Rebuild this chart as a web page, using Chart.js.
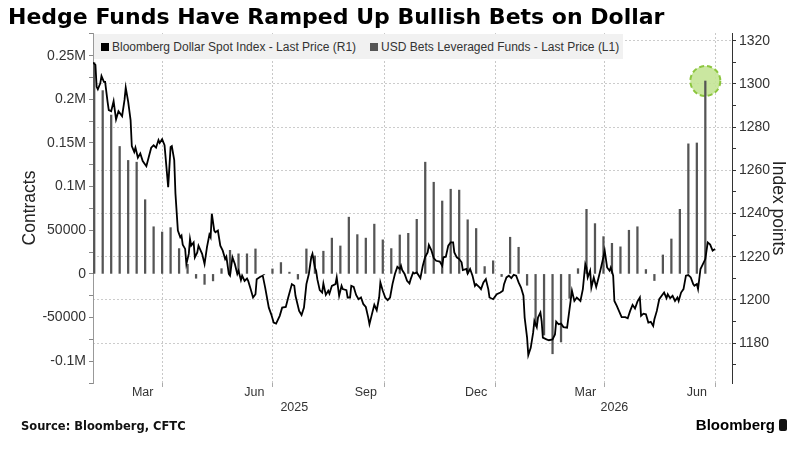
<!DOCTYPE html>
<html>
<head>
<meta charset="utf-8">
<title>Hedge Funds Have Ramped Up Bullish Bets on Dollar</title>
<script src="https://cdn.jsdelivr.net/npm/chart.js@4.4.1/dist/chart.umd.min.js"></script>
<style>
  html, body { margin:0; padding:0; background:#fff; }
  #wrap { position:relative; width:800px; height:450px; overflow:hidden; background:#fff; }
  #chart { position:absolute; left:0; top:0; }
  #title { position:absolute; left:8px; top:2px; font-family:"DejaVu Sans", sans-serif; font-weight:bold; font-size:22px; line-height:30px; color:#000; white-space:nowrap; }
  #legend { position:absolute; left:94px; top:34px; height:25px; padding:0 4px 0 7px; background:#f1f1f1; display:flex; align-items:center; font-family:"Liberation Sans", Arial, sans-serif; font-size:12px; color:#333; white-space:nowrap; }
  #legend .sw { display:inline-block; width:8px; height:8px; margin-right:3px; }
  #legend .item { display:flex; align-items:center; }
  #legend .item + .item { margin-left:14px; }
  #source { position:absolute; left:21px; top:418px; font-family:"DejaVu Sans", sans-serif; font-weight:bold; font-size:11.5px; line-height:16px; color:#111; white-space:nowrap; }
  #brand { position:absolute; right:13px; top:415px; font-family:"Liberation Sans", Arial, sans-serif; font-weight:bold; font-size:15px; line-height:20px; color:#000; display:flex; align-items:center; gap:4px; }
  #brand i { display:inline-block; width:8px; height:12px; background:#111; border-radius:2px; }
</style>
</head>
<body>
<div id="wrap">
  <canvas id="chart" width="800" height="450"></canvas>
  <div id="title">Hedge Funds Have Ramped Up Bullish Bets on Dollar</div>
  <div id="legend"></div>
  <div id="source">Source: Bloomberg, CFTC</div>
  <div id="brand">Bloomberg<i></i></div>
</div>
<script>
// ---------------- DATA ----------------
const BASE_DATE = '2025-02-03';           // day 0 of the x axis
const X_MIN_DATE = '2025-02-03';
const X_MAX_DATE = '2026-07-15';

// USD Bets Leveraged Funds (weekly, contracts) - left axis
const barDates = [
  '2025-02-04','2025-02-11','2025-02-18','2025-02-25','2025-03-04','2025-03-11','2025-03-18','2025-03-25',
  '2025-04-01','2025-04-08','2025-04-15','2025-04-22','2025-04-29','2025-05-06','2025-05-13','2025-05-20','2025-05-27',
  '2025-06-03','2025-06-10','2025-06-17','2025-06-24','2025-07-01','2025-07-08','2025-07-15','2025-07-22','2025-07-29',
  '2025-08-05','2025-08-12','2025-08-19','2025-08-26','2025-09-02','2025-09-09','2025-09-16','2025-09-23','2025-09-30',
  '2025-10-07','2025-10-14','2025-10-21','2025-10-28','2025-11-04','2025-11-11','2025-11-18','2025-11-25',
  '2025-12-02','2025-12-09','2025-12-16','2025-12-23','2025-12-30','2026-01-06','2026-01-13','2026-01-20','2026-01-27',
  '2026-02-03','2026-02-10','2026-02-17','2026-02-24','2026-03-03','2026-03-10','2026-03-17','2026-03-24','2026-03-31',
  '2026-04-07','2026-04-14','2026-04-21','2026-04-28','2026-05-05','2026-05-12','2026-05-19','2026-05-26',
  '2026-06-02','2026-06-09','2026-06-16','2026-06-23'
];
const barValues = [
  242000,210000,182000,146000,130000,128000,85000,54000,48000,53000,
  29000,11000,-5000,-12000,-8000,6000,27000,23000,23000,28600,
  -1000,5700,13000,2000,-6000,28600,20600,26000,41000,32000,
  65000,45000,41000,57000,39000,29000,44600,46500,62500,128000,
  105000,83500,97000,96000,62000,52000,8400,15000,-3000,42000,
  30500,-13000,-60000,-70000,-91500,-78000,-28000,6000,74000,57600,
  42700,35000,31000,50000,54000,5000,-7600,21700,40000,74000,
  149000,150000,221000
];

// Bloomberg Dollar Spot Index (index points) - right axis; x = days since BASE_DATE
const lineDays = [
  0,2,3,4,6,7,9,10,12,13,
  15,17,19,21,24,26,27,29,31,32,
  34,35,37,39,41,44,46,48,50,52,
  54,55,57,59,62,64,65,67,68,70,
  72,73,74,76,77,79,80,81,83,84,
  86,87,90,92,94,96,97,98,100,101,
  103,105,107,109,110,112,113,115,117,119,
  120,122,123,125,127,128,130,132,134,135,
  138,140,142,145,147,149,151,154,156,159,
  161,164,166,167,170,172,174,176,178,180,
  181,183,184,185,187,189,190,192,194,195,
  197,200,201,203,205,206,209,210,212,213,
  215,217,219,221,223,225,227,228,230,232,
  234,236,237,239,241,243,245,247,249,251,
  253,254,255,257,259,261,262,264,265,267,
  270,272,274,276,277,279,281,283,286,288,
  289,291,293,295,297,298,300,302,304,305,
  308,309,311,313,315,316,319,320,322,324,
  326,327,330,331,333,336,338,339,341,343,
  345,347,349,351,353,355,356,358,359,361,
  363,364,366,367,369,370,371,374,376,379,
  381,382,384,386,388,391,393,395,397,399,
  402,404,406,407,408,410,411,413,415,417,
  419,421,422,424,426,427,429,430,432,435,
  436,439,441,443,445,447,449,451,452,454,
  456,458,460,462,463,465,467,469,471,473,
  474,476,478,480,482,483,485,487,489,491,
  493,495,496,498,499,501,503,505,506,507,
  509,511,513
];
const lineValues = [
  1309.9,1308.8,1298.7,1297.5,1300.3,1303.7,1301,1301,1291.8,1287.9,
  1287.4,1292,1283.6,1287.4,1285.1,1292.6,1298.3,1291.8,1283.3,1271.2,
  1268.5,1270.5,1265.9,1267.8,1264.3,1261.9,1266.2,1270.5,1271.6,1270.5,
  1274,1272.7,1274.4,1271.6,1252.2,1270.8,1271.2,1264.7,1249.2,1232.1,
  1229,1229.8,1225.6,1223.6,1216.6,1221.3,1228.2,1225.1,1226.6,1219.7,
  1222,1225.1,1221.3,1216.6,1224.4,1230.2,1229,1239.9,1232.1,1231.3,
  1232.1,1225.1,1222.8,1218.9,1220,1212,1211.2,1219.7,1216.6,1212,
  1213.5,1209.2,1211.2,1208.8,1209.9,1208.8,1205,1201.1,1202.6,1209.6,
  1210.7,1211.2,1205.7,1196.4,1193.3,1189.5,1189,1192.6,1196.4,1196.7,
  1201.1,1207.3,1206.5,1201.9,1194.9,1193,1196.4,1207.3,1212,1219.7,
  1221.3,1215,1213.5,1209.6,1204.5,1203.4,1207.6,1202.3,1204.2,1202.9,
  1206.5,1207.3,1210.4,1201.9,1206.5,1205,1204.5,1201.1,1201.1,1206.5,
  1206,1202.3,1200.3,1201.1,1198,1196.7,1191.8,1188.7,1193.3,1197.7,
  1195.2,1201.1,1208.1,1204.2,1201.1,1199.9,1201.1,1207.3,1212,1215.3,
  1214.3,1215.8,1213.8,1212,1208.8,1207.6,1209.6,1212.7,1212.2,1212.7,
  1210.1,1215.8,1220,1222,1225.4,1223.1,1219.4,1218.1,1217.7,1215.8,
  1219.7,1220,1225.1,1226.6,1226.6,1222,1219.7,1218.9,1217.4,1213.8,
  1214.3,1212.2,1214.3,1211.2,1206.5,1207.3,1205.7,1205,1208.1,1209.6,
  1205,1201.1,1200.3,1201.1,1202.6,1203.4,1204.2,1207.3,1210.4,1211.2,
  1210.1,1211.6,1211.2,1208.1,1205.7,1201.9,1191.8,1182.5,1174.4,1177.8,
  1184.8,1190.2,1187.4,1191.8,1194.1,1190.2,1182.5,1181.7,1181.3,1181.7,
  1184,1189.9,1188.7,1189,1187.4,1187.1,1195.7,1204.2,1199.5,1201.1,
  1199.5,1205,1216.6,1215,1210.4,1213.5,1205.7,1210.4,1206,1210.4,
  1215,1220,1222.8,1215,1213.5,1215,1211.2,1199.5,1197.2,1193.3,
  1192,1192,1191.5,1194.9,1197.7,1196,1199.2,1201.1,1192.6,1193.6,
  1193.3,1189.5,1189.8,1187.9,1191,1194.9,1200.3,1201.9,1203.4,1200.8,
  1202.6,1200.8,1201.9,1199.5,1201.1,1199.5,1203.4,1205,1211.2,1211.5,
  1210.4,1207.3,1206.5,1207.3,1205,1214.3,1216.6,1218.9,1222.8,1226.6,
  1225.6,1222.8,1223.6
];

// Axis ticks and labels
const quarterGridDates = ['2025-04-01','2025-07-01','2025-10-01','2026-01-01','2026-04-01','2026-07-01'];
const monthTickDates  = ['2025-03-16','2025-06-16','2025-09-16','2025-12-16','2026-03-16','2026-06-16'];
const monthTickLabels = ['Mar','Jun','Sep','Dec','Mar','Jun'];
const yearTickDates  = ['2025-07-19','2026-04-09'];
const yearTickLabels = ['2025','2026'];
const leftTickValues = [-125000,-100000,-75000,-50000,-25000,0,25000,50000,75000,100000,125000,150000,175000,200000,225000,250000,275000];
const leftTickLabels = ['','-0.1M','','-50000','','0','','50000','','0.1M','','0.15M','','0.2M','','0.25M',''];
const rightTickValues = [1170,1180,1190,1200,1210,1220,1230,1240,1250,1260,1270,1280,1290,1300,1310,1320];
const rightTickLabels = ['','1180','','1200','','1220','','1240','','1260','','1280','','1300','','1320'];
const seriesNames = ['Bloomberg Dollar Spot Index - Last Price (R1)', 'USD Bets Leveraged Funds - Last Price (L1)'];
const seriesColors = ['#000000', '#555555'];

// ---------------- HELPERS ----------------
function dayOf(iso) {
  const [y, m, d] = iso.split('-').map(Number);
  const [by, bm, bd] = BASE_DATE.split('-').map(Number);
  return Math.round((Date.UTC(y, m - 1, d) - Date.UTC(by, bm - 1, bd)) / 86400000);
}
const xMin = dayOf(X_MIN_DATE), xMax = dayOf(X_MAX_DATE);
const lineData = lineDays.map((d, i) => ({ x: d, y: lineValues[i] }));
const barData = barDates.map((d, i) => ({ x: dayOf(d), y: barValues[i] }));

// legend (real text)
const legendEl = document.getElementById('legend');
seriesNames.forEach((name, i) => {
  const it = document.createElement('span');
  it.className = 'item';
  const sw = document.createElement('span');
  sw.className = 'sw';
  sw.style.background = seriesColors[i];
  const tx = document.createElement('span');
  tx.textContent = name;
  it.appendChild(sw); it.appendChild(tx);
  legendEl.appendChild(it);
});

const regular = "'Liberation Sans',Arial,sans-serif";
const tickFont = { family: regular, size: 14 };
const xFont = { family: regular, size: 12.5 };

// dashed green highlight circle around the latest bar's top
const highlight = {
  id: 'highlight',
  beforeDatasetsDraw(chart) {
    const i = barValues.length - 1;
    const x = chart.scales.x.getPixelForValue(dayOf(barDates[i]));
    const y = chart.scales.yL.getPixelForValue(barValues[i]);
    const ctx = chart.ctx;
    ctx.save();
    ctx.beginPath();
    ctx.arc(x, y, 15, 0, Math.PI * 2);
    ctx.fillStyle = 'rgba(196,228,150,0.9)';
    ctx.fill();
    ctx.setLineDash([5, 3]);
    ctx.lineWidth = 2;
    ctx.strokeStyle = '#8cc63f';
    ctx.stroke();
    ctx.restore();
  }
};

Chart.defaults.font.family = regular;
Chart.defaults.color = '#333';

const xCommon = { type: 'linear', position: 'bottom', min: xMin, max: xMax, offset: false };

new Chart(document.getElementById('chart'), {
  type: 'line',
  data: {
    datasets: [
      {
        type: 'line', label: seriesNames[0], data: lineData,
        xAxisID: 'x', yAxisID: 'yR',
        borderColor: seriesColors[0], backgroundColor: seriesColors[0], borderWidth: 1.8,
        pointRadius: 0, tension: 0, fill: false, order: 0
      },
      {
        type: 'bar', label: seriesNames[1], data: barData,
        xAxisID: 'x', yAxisID: 'yL',
        backgroundColor: seriesColors[1], borderWidth: 0, barThickness: 1.6, order: 1
      }
    ]
  },
  options: {
    responsive: false,
    devicePixelRatio: 1,
    animation: false,
    layout: { padding: { top: 33, bottom: 34, left: 0, right: 0 } },
    plugins: {
      tooltip: { enabled: false },
      legend: { display: false }
    },
    scales: {
      x: Object.assign({}, xCommon, {
        weight: 0,
        afterBuildTicks: s => { s.ticks = quarterGridDates.map(d => ({ value: dayOf(d) })); },
        ticks: { display: false },
        grid: { display: true, offset: false, drawOnChartArea: true, color: '#c8c8c8', lineWidth: 1, drawTicks: true, tickLength: 4, tickColor: '#aaa' },
        border: { display: false, dash: [2, 2] },
        afterFit: s => { s.height = 0; }
      }),
      xm: Object.assign({}, xCommon, {
        weight: 1,
        afterBuildTicks: s => { s.ticks = monthTickDates.map(d => ({ value: dayOf(d) })); },
        ticks: { autoSkip: false, maxRotation: 0, padding: 2, color: '#333', font: xFont, callback: (v, i) => monthTickLabels[i] },
        grid: { display: false, drawTicks: false, offset: false },
        border: { display: false },
        afterFit: s => { s.height = 16; }
      }),
      xy: Object.assign({}, xCommon, {
        weight: 2,
        afterBuildTicks: s => { s.ticks = yearTickDates.map(d => ({ value: dayOf(d) })); },
        ticks: { autoSkip: false, maxRotation: 0, padding: 1.5, color: '#333', font: xFont, callback: (v, i) => yearTickLabels[i] },
        grid: { display: false, drawTicks: false, offset: false },
        border: { display: false },
        afterFit: s => { s.height = 17; }
      }),
      yL: {
        type: 'linear', position: 'left', min: -125000, max: 276000,
        afterBuildTicks: s => { s.ticks = leftTickValues.map(v => ({ value: v })); },
        ticks: { autoSkip: false, padding: 3, color: '#333', font: tickFont, callback: (v, i) => leftTickLabels[i] },
        grid: { drawOnChartArea: false, drawTicks: true, tickLength: 4, tickColor: '#888', lineWidth: 1 },
        border: { display: true, color: '#999', width: 1 },
        title: { display: true, text: 'Contracts', color: '#222', font: { family: regular, size: 17.5 }, padding: { top: 20, bottom: 0 } },
        afterFit: s => { s.width = 93; }
      },
      yR: {
        type: 'linear', position: 'right', min: 1161.5, max: 1323.6,
        afterBuildTicks: s => { s.ticks = rightTickValues.map(v => ({ value: v })); },
        ticks: { autoSkip: false, padding: 3, color: '#333', font: tickFont, callback: (v, i) => rightTickLabels[i] },
        grid: {
          drawOnChartArea: true, drawTicks: true, tickLength: 4, tickColor: '#333', lineWidth: 1,
          color: c => (rightTickLabels[c.index] ? '#cccccc' : 'rgba(0,0,0,0)')
        },
        border: { display: true, color: '#333', width: 1, dash: [2, 2] },
        title: { display: true, text: 'Index points', color: '#222', font: { family: regular, size: 17.5 }, padding: { top: 12, bottom: 0 } },
        afterFit: s => { s.width = 68; }
      }
    }
  },
  plugins: [highlight]
});
</script>
</body>
</html>
